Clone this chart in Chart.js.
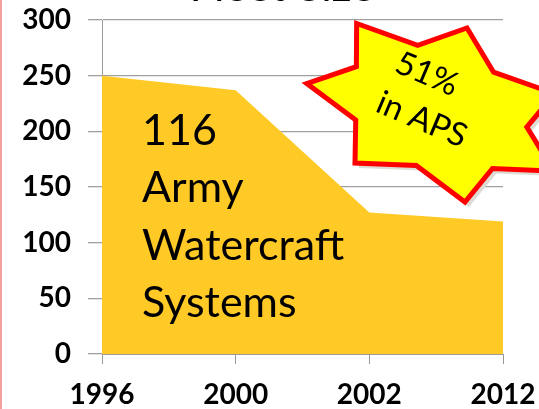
<!DOCTYPE html>
<html>
<head>
<meta charset="utf-8">
<script src="https://cdn.jsdelivr.net/npm/chart.js@4"></script>
<style>
html,body{margin:0;padding:0;background:#fff;}
#wrap{width:539px;height:409px;position:relative;}
</style>
</head>
<body>
<div id="wrap"><canvas id="c" width="539" height="409"></canvas></div>
<script>
const years = ['1996', '2000', '2002', '2012'];
const fleetSize = [250, 237, 127, 119];
const yTicks = [0, 50, 100, 150, 200, 250, 300];
const titleText = 'Fleet Size';
const noteLines = ['116', 'Army', 'Watercraft', 'Systems'];
const starLines = ['51%', 'in APS'];

const FONT = 'Lato, "Open Sans", sans-serif';

const overlay = {
  id: 'overlay',
  afterDraw(chart) {
    const ctx = chart.ctx;
    const ca = chart.chartArea;
    ctx.save();
    // left pink border
    ctx.strokeStyle = '#f2a0a0';
    ctx.lineWidth = 2;
    ctx.beginPath(); ctx.moveTo(1, 0); ctx.lineTo(1, 409); ctx.stroke();

    // partially visible title
    ctx.fillStyle = '#000';
    ctx.font = '44px ' + FONT;
    ctx.textAlign = 'center';
    ctx.textBaseline = 'alphabetic';
    ctx.fillText(titleText, 282, 1);

    // note text
    ctx.font = '43px ' + FONT;
    ctx.textAlign = 'left';
    noteLines.forEach((t, i) => ctx.fillText(t, ca.left + 40, 145 + i * 57.3));

    // star (7-point, affine-transformed)
    const cx = 437, cy = 109.3, m11 = 126.7, m12 = -30, m21 = 44.9, m22 = 81.3, n = 7, ratio = 0.69;
    function starPath(ox, oy) {
      ctx.beginPath();
      for (let k = 0; k < 2 * n; k++) {
        const phi = -Math.PI / 2 + k * Math.PI / n;
        const r = k % 2 === 0 ? 1 : ratio;
        const ux = r * Math.cos(phi), uy = r * Math.sin(phi);
        const x = cx + ox + m11 * ux + m12 * uy;
        const y = cy + oy + m21 * ux + m22 * uy;
        if (k === 0) ctx.moveTo(x, y); else ctx.lineTo(x, y);
      }
      ctx.closePath();
    }
    starPath(4, 5);
    ctx.fillStyle = '#dcdcd4';
    ctx.fill();
    starPath(0, 0);
    ctx.fillStyle = '#ffff00';
    ctx.fill();
    ctx.strokeStyle = '#ff0000';
    ctx.lineWidth = 5;
    ctx.lineJoin = 'miter';
    ctx.stroke();

    // star text
    ctx.save();
    ctx.translate(402, 50);
    ctx.rotate(23 * Math.PI / 180);
    ctx.fillStyle = '#000';
    ctx.font = '33px ' + FONT;
    ctx.textAlign = 'left';
    ctx.textBaseline = 'top';
    starLines.forEach((t, i) => ctx.fillText(t, i === 0 ? 0 : -2, i * 44 - 4));
    ctx.restore();

    ctx.restore();
  }
};

new Chart(document.getElementById('c'), {
  type: 'line',
  data: {
    labels: years,
    datasets: [{
      data: fleetSize,
      fill: 'origin',
      backgroundColor: '#ffc926',
      borderWidth: 0,
      borderColor: 'rgba(0,0,0,0)',
      pointRadius: 0,
      tension: 0
    }]
  },
  options: {
    responsive: false,
    animation: false,
    devicePixelRatio: 1,
    layout: { padding: { top: 20, right: 36, left: 0, bottom: 0 } },
    plugins: { legend: { display: false }, title: { display: false }, tooltip: { enabled: false } },
    scales: {
      x: {
        offset: false,
        grid: { drawOnChartArea: false, color: '#999', tickLength: 10, lineWidth: 1 },
        border: { color: '#999' },
        ticks: { color: '#000', font: { family: FONT, size: 28, weight: 'bold' }, padding: 14, maxRotation: 0 },
        afterFit: s => { s.height = 55; s.paddingLeft = 0; s.paddingRight = 0; }
      },
      y: {
        min: 0, max: 300,
        afterBuildTicks: s => { s.ticks = yTicks.map(v => ({ value: v })); },
        grid: { color: '#a0a0a0', tickLength: 14, lineWidth: 1.3 },
        border: { color: '#999' },
        ticks: { color: '#000', font: { family: FONT, size: 28, weight: 'bold' }, padding: 17 },
        afterFit: s => { s.width = 102; s.paddingTop = 0; s.paddingBottom = 0; }
      }
    }
  },
  plugins: [overlay]
});
</script>
</body>
</html>
